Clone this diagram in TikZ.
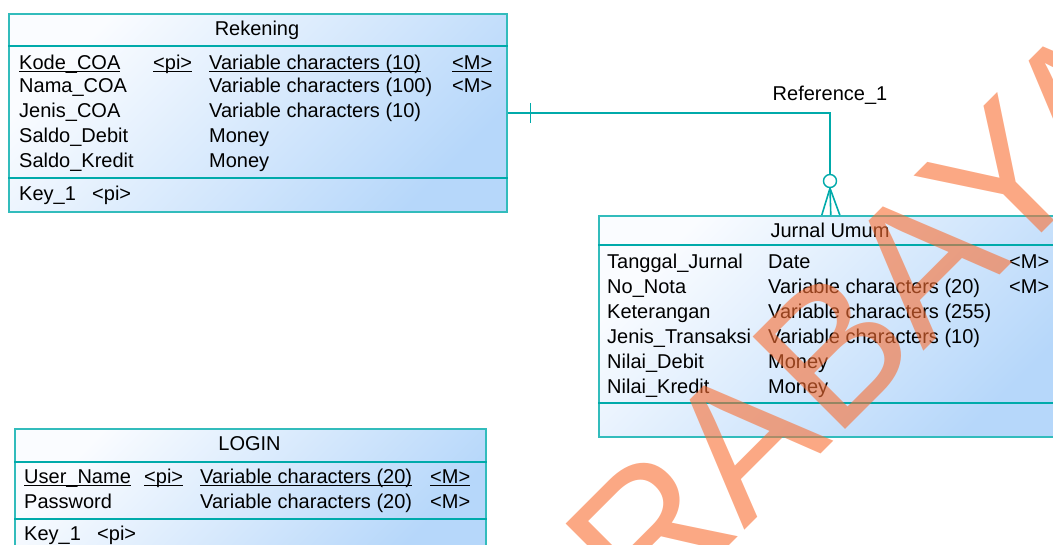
\documentclass[tikz,border=0pt]{standalone}
\usepackage{fontspec}
\setmainfont{Liberation Sans}
\definecolor{erLine}{RGB}{0,170,170}
\definecolor{erEdge}{RGB}{50,188,188}
\definecolor{erTop}{RGB}{250,252,255}
\definecolor{erBot}{RGB}{182,215,250}
\definecolor{wmOrange}{RGB}{249,110,50}
\newcommand{\keyline}[1]{\setbox0\hbox{#1}\rlap{\rule[-3pt]{\wd0}{1.3pt}}\box0}
\tikzset{
  entity/.style={draw=erEdge, line width=1.6pt, top color=erTop, bottom color=erBot,
    shading angle=45, anchor=north west, inner sep=0pt},
  sep/.style={draw=erLine, line width=1.6pt},
  attr/.style={anchor=base west, inner sep=0pt, font=\fontsize{20}{24}\selectfont},
  title/.style={anchor=base, inner sep=0pt, font=\fontsize{20}{24}\selectfont},
  refline/.style={draw=erLine, line width=1.6pt},
  wmark/.style={anchor=base west, inner sep=0pt, text=wmOrange, text opacity=0.6,
    font=\fontsize{190}{190}\selectfont}
}
\begin{document}
\begin{tikzpicture}[x=1pt,y=-1pt]
\useasboundingbox (0,0) rectangle (1053,544);
\clip (0,0) rectangle (1053,544);

% Rekening
\node[entity, minimum width=498pt, minimum height=198pt] (rek) at (8,13) {};
\draw[sep] ([yshift=-33pt]rek.north west) -- ([yshift=-33pt]rek.north east);
\draw[sep] ([yshift=-165pt]rek.north west) -- ([yshift=-165pt]rek.north east);
\node[title] (rek-t) at (257,35) {Rekening};
\node[attr] (rek-a1) at (19,69) {\keyline{Kode\_COA}};
\node[attr] (rek-p1) at (153,69) {\keyline{<pi>}};
\node[attr] (rek-d1) at (209,69) {\keyline{Variable characters (10)}};
\node[attr] (rek-m1) at (452,69) {\keyline{<M>}};
\node[attr] (rek-a2) at (19,92) {Nama\_COA};
\node[attr] (rek-d2) at (209,92) {Variable characters (100)};
\node[attr] (rek-m2) at (452,92) {<M>};
\node[attr] (rek-a3) at (19,117) {Jenis\_COA};
\node[attr] (rek-d3) at (209,117) {Variable characters (10)};
\node[attr] (rek-a4) at (19,142) {Saldo\_Debit};
\node[attr] (rek-d4) at (209,142) {Money};
\node[attr] (rek-a5) at (19,167) {Saldo\_Kredit};
\node[attr] (rek-d5) at (209,167) {Money};
\node[attr] (rek-k) at (19,200) {Key\_1};
\node[attr] (rek-kp) at (92,200) {<pi>};

% Jurnal Umum
\node[entity, minimum width=464pt, minimum height=221pt] (jur) at (598,215) {};
\draw[sep] ([yshift=-30pt]jur.north west) -- ([yshift=-30pt]jur.north east);
\draw[sep] ([yshift=-188pt]jur.north west) -- ([yshift=-188pt]jur.north east);
\node[title] (jur-t) at (830,237) {Jurnal Umum};
\node[attr] (jur-a1) at (607,268) {Tanggal\_Jurnal};
\node[attr] (jur-d1) at (768,268) {Date};
\node[attr] (jur-m1) at (1009,268) {<M>};
\node[attr] (jur-a2) at (607,293) {No\_Nota};
\node[attr] (jur-d2) at (768,293) {Variable characters (20)};
\node[attr] (jur-m2) at (1009,293) {<M>};
\node[attr] (jur-a3) at (607,318) {Keterangan};
\node[attr] (jur-d3) at (768,318) {Variable characters (255)};
\node[attr] (jur-a4) at (607,343) {Jenis\_Transaksi};
\node[attr] (jur-d4) at (768,343) {Variable characters (10)};
\node[attr] (jur-a5) at (607,368) {Nilai\_Debit};
\node[attr] (jur-d5) at (768,368) {Money};
\node[attr] (jur-a6) at (607,393) {Nilai\_Kredit};
\node[attr] (jur-d6) at (768,393) {Money};

% LOGIN
\node[entity, minimum width=471pt, minimum height=124pt] (log) at (14,428) {};
\draw[sep] ([yshift=-34pt]log.north west) -- ([yshift=-34pt]log.north east);
\draw[sep] ([yshift=-91pt]log.north west) -- ([yshift=-91pt]log.north east);
\node[title] (log-t) at (249.5,450) {LOGIN};
\node[attr] (log-a1) at (24,483) {\keyline{User\_Name}};
\node[attr] (log-p1) at (144,483) {\keyline{<pi>}};
\node[attr] (log-d1) at (200,483) {\keyline{Variable characters (20)}};
\node[attr] (log-m1) at (430,483) {\keyline{<M>}};
\node[attr] (log-a2) at (24,508) {Password};
\node[attr] (log-d2) at (200,508) {Variable characters (20)};
\node[attr] (log-m2) at (430,508) {<M>};
\node[attr] (log-k) at (24,540) {Key\_1};
\node[attr] (log-kp) at (97,540) {<pi>};

% Reference_1
\node[circle, draw=erLine, line width=1.4pt, fill=white, minimum size=13pt, inner sep=0pt] (ref-o) at (830,181) {};
\draw[refline] (rek.east) -| (ref-o.north);
\draw[refline] ([xshift=23pt,yshift=10pt]rek.east) -- ([xshift=23pt,yshift=-10pt]rek.east);
\draw[refline] (ref-o.south) -- ([xshift=-9pt]jur.north);
\draw[refline] (ref-o.south) -- (jur.north);
\draw[refline] (ref-o.south) -- ([xshift=9pt]jur.north);
\node[title] (ref-t) at (830,100) {Reference\_1};

% watermark
\node[wmark, rotate=45] (wm) at (461,814) {SURABAYA};
\end{tikzpicture}
\end{document}
